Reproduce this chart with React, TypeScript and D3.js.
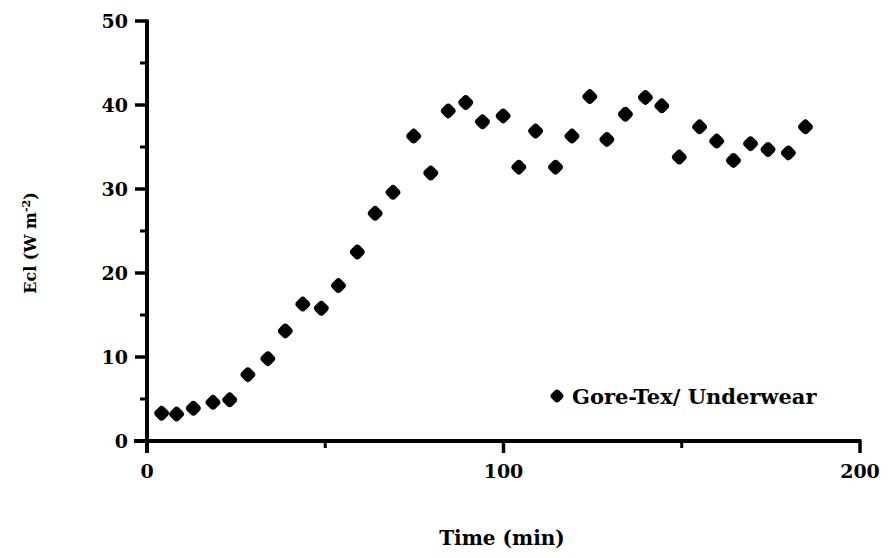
import React from "react";
import * as d3 from "d3";

const times = [4.1, 8.3, 13, 18.5, 23.2, 28.3, 33.9, 38.8, 43.7, 48.9, 53.7, 59, 64, 69, 74.8, 79.6, 84.5, 89.4, 94.1, 99.9, 104.3, 109, 114.6, 119.2, 124.2, 129, 134.2, 139.8, 144.4, 149.3, 155, 159.8, 164.5, 169.3, 174.2, 179.9, 184.7];
const ecl = [3.3, 3.2, 3.9, 4.6, 4.9, 7.9, 9.8, 13.1, 16.3, 15.8, 18.5, 22.5, 27.1, 29.6, 36.3, 31.9, 39.3, 40.3, 38.0, 38.7, 32.6, 36.9, 32.6, 36.3, 41.0, 35.9, 38.9, 40.9, 39.9, 33.8, 37.4, 35.7, 33.4, 35.4, 34.7, 34.3, 37.4];
const xTicks = [0, 100, 200];
const xMinor = [50, 150];
const yTicks = [0, 10, 20, 30, 40, 50];
const yMinor = [5, 15, 25, 35, 45];
const legendLabel = "Gore-Tex/ Underwear";

export default function App() {
  const W = 891, H = 558;
  const x = d3.scaleLinear().domain([0, 200]).range([147, 860]);
  const y = d3.scaleLinear().domain([0, 50]).range([441, 21]);
  const font = "'DejaVu Serif', 'Liberation Serif', serif";
  const data = times.map((t, i) => ({ t, v: ecl[i] }));
  const s = 12.5;
  return (
    <svg width={W} height={H} style={{ position: "absolute", left: 0, top: 0, background: "#fff" }}>
      <line x1={x(0)} x2={x(0)} y1={y(50) - 1.5} y2={y(0) + 12} stroke="#000" strokeWidth={4} />
      <line x1={x(0) - 13} x2={x(200) + 1.5} y1={y(0)} y2={y(0)} stroke="#000" strokeWidth={4} />
      {yTicks.map((t) => (
        <g key={"yt" + t}>
          <line x1={x(0) - 12} x2={x(0)} y1={y(t)} y2={y(t)} stroke="#000" strokeWidth={3.5} />
          <text x={128} y={y(t)} dy="0.36em" textAnchor="end" fontFamily={font} fontWeight="bold" fontSize={19}>{t}</text>
        </g>
      ))}
      {yMinor.map((t) => (
        <line key={"ym" + t} x1={x(0) - 7} x2={x(0)} y1={y(t)} y2={y(t)} stroke="#000" strokeWidth={3} />
      ))}
      {xTicks.map((t) => (
        <g key={"xt" + t}>
          <line x1={x(t)} x2={x(t)} y1={y(0)} y2={y(0) + 12} stroke="#000" strokeWidth={3.5} />
          <text x={x(t)} y={478} textAnchor="middle" fontFamily={font} fontWeight="bold" fontSize={19}>{t}</text>
        </g>
      ))}
      {xMinor.map((t) => (
        <line key={"xm" + t} x1={x(t)} x2={x(t)} y1={y(0)} y2={y(0) + 7} stroke="#000" strokeWidth={3} />
      ))}
      <text x={502} y={545} textAnchor="middle" fontFamily={font} fontWeight="bold" fontSize={20}>Time (min)</text>
      <text transform="translate(36,243) rotate(-90)" textAnchor="middle" fontFamily={font} fontWeight="bold" fontSize={16}>
        Ecl (W m<tspan dy="-6" fontSize={11}>-2</tspan><tspan dy="6">)</tspan>
      </text>
      {data.map((d, i) => (
        <rect key={i} x={-s / 2} y={-s / 2} width={s} height={s} rx={3.8} fill="#000"
          transform={`translate(${x(d.t)},${y(d.v)}) rotate(45)`} />
      ))}
      <rect x={-5.5} y={-5.5} width={11} height={11} rx={3.5} fill="#000" transform="translate(557,396) rotate(45)" />
      <text x={572} y={396} dy="0.36em" fontFamily={font} fontWeight="bold" fontSize={21}>{legendLabel}</text>
    </svg>
  );
}
